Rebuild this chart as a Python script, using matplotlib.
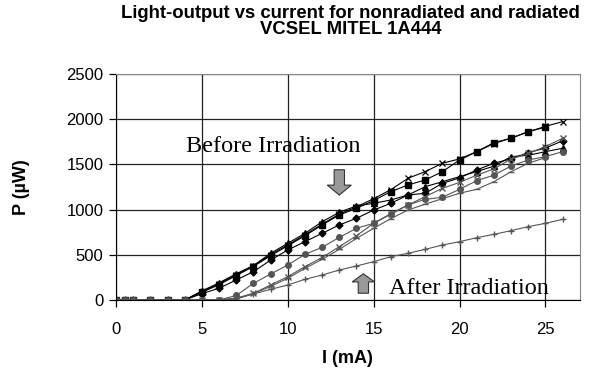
import matplotlib
matplotlib.use("Agg")
import matplotlib.pyplot as plt
import matplotlib.patches as mpatches
import numpy as np

# current (mA)
current = [0, 0.5, 1, 2, 3, 4, 5, 6, 7, 8, 9, 10, 11, 12, 13, 14, 15, 16,
           17, 18, 19, 20, 21, 22, 23, 24, 25, 26]
nan = np.nan

# before irradiation (uW)
before_x = [0, 0, 0, 0, 0, 0, 90, 180, 280, 380, 500, 610, 720, 840, 950,
            1030, 1120, 1220, 1346, 1419, 1512, 1560, 1640, 1730, 1790, 1860,
            1920, 1972]
before_sq = [0, 0, 0, 0, 0, 0, 85, 170, 270, 370, 490, 600, 710, 830, 940,
             1014, 1100, 1198, 1272, 1327, 1419, 1548, 1640, 1740, 1788, 1862,
             1910, nan]
before_tri = [0, 0, 0, 0, 0, 0, 100, 190, 290, 380, 516, 627, 737, 866, 970,
              1040, 1069, 1106, 1161, 1253, 1308, 1364, 1420, 1480, 1585, 1600,
              1640, 1678]
before_dia = [0, 0, 0, 0, 0, 0, 70, 130, 221, 313, 440, 553, 645, 737, 830,
              903, 995, 1069, 1161, 1180, 1290, 1350, 1438, 1512, 1560, 1630,
              1680, 1760]

# after irradiation (uW)
after_circ = [0, 0, 0, 0, 0, 0, 0, 0, 50, 184, 287, 387, 505, 582, 693, 793,
              848, 948, 1051, 1113, 1135, 1224, 1320, 1380, 1482, 1548, 1585,
              1640]
after_x = [0, 0, 0, 0, 0, 0, 0, 0, 20, 74, 166, 258, 369, 470, 590, 710, 848,
           955, 1050, 1143, 1235, 1300, 1380, 1450, 1560, 1620, 1696, 1788]
after_dash = [0, 0, 0, 0, 0, 0, 0, 0, 10, 70, 150, 240, 350, 450, 560, 680,
              793, 900, 995, 1060, 1120, 1180, 1224, 1308, 1419, 1512, 1574,
              nan]
after_plus = [0, 0, 0, 0, 0, 0, 0, 0, 19, 66, 118, 166, 229, 276, 332, 376,
              424, 479, 516, 560, 608, 645, 689, 726, 767, 811, 848, 892]

fig = plt.figure(figsize=(6.04, 3.75), dpi=100)
ax = fig.add_axes([0.192, 0.2, 0.768, 0.603])

gray = '#555555'
ax.plot(current, before_x, color='black', lw=0.8, marker='x', ms=5, mew=0.9)
ax.plot(current, before_sq, color='black', lw=0.8, marker='s', ms=4)
ax.plot(current, before_tri, color='black', lw=0.8, marker='^', ms=5)
ax.plot(current, before_dia, color='black', lw=0.8, marker='D', ms=3.5)
ax.plot(current, after_circ, color=gray, lw=0.8, marker='o', ms=4)
ax.plot(current, after_x, color=gray, lw=0.8, marker='x', ms=5, mew=1.0)
ax.plot(current, after_dash, color=gray, lw=0.8, marker='_', ms=4)
ax.plot(current, after_plus, color=gray, lw=0.8, marker='+', ms=5)

ax.set_xlim(0, 27)
ax.set_ylim(0, 2500)
ax.set_xticks([0, 5, 10, 15, 20, 25])
ax.set_yticks([0, 500, 1000, 1500, 2000, 2500])
ax.grid(True, color='#222222', lw=0.9)
ax.set_axisbelow(True)
ax.tick_params(labelsize=12, length=5, width=0.9, direction='out')
ax.tick_params(axis='x', pad=11)
ax.tick_params(axis='y', pad=4)
for lab in ax.get_xticklabels() + ax.get_yticklabels():
    lab.set_fontfamily('Liberation Sans')
ax.spines['left'].set_color('black')
ax.spines['bottom'].set_color('black')
ax.spines['top'].set_color('#888888')
ax.spines['right'].set_color('#888888')

ax.set_xlabel('I (mA)', fontsize=13, fontweight='bold', family='Liberation Sans', labelpad=9)
ax.set_ylabel('P (µW)', fontsize=13, fontweight='bold', family='Liberation Sans', labelpad=26)
fig.text(0.581, 0.943, 'Light-output vs current for nonradiated and radiated\nVCSEL MITEL 1A444',
         fontsize=13.3, fontweight='bold', family='Liberation Sans',
         ha='center', va='center', linespacing=0.92)

# annotations
ax.text(4.1, 1692, 'Before Irradiation', family='Liberation Serif', fontsize=17.5,
        va='center', ha='left')
ax.text(15.9, 122, 'After Irradiation', family='Liberation Serif', fontsize=17.5,
        va='center', ha='left')
ax.add_patch(mpatches.FancyArrow(13.0, 1440, 0, -280, width=0.6, head_width=1.4,
                                 head_length=110, length_includes_head=True,
                                 fc='#999999', ec='#333333', lw=0.8, zorder=5))
ax.add_patch(mpatches.FancyArrow(14.4, 75, 0, 215, width=0.6, head_width=1.3,
                                 head_length=90, length_includes_head=True,
                                 fc='#999999', ec='#333333', lw=0.8, zorder=5))

plt.savefig('out.png', dpi=100)
